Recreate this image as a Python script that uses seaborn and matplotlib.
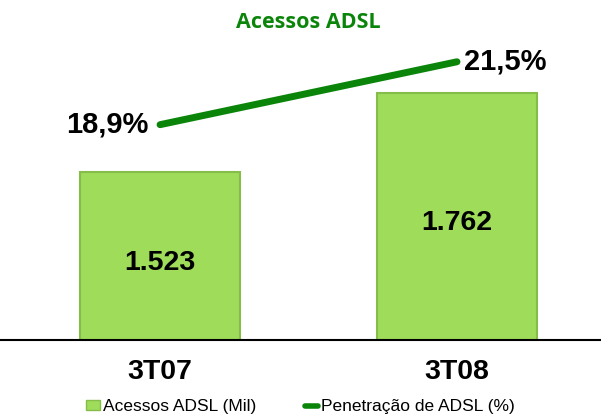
import numpy as np
import pandas as pd
import matplotlib
matplotlib.use("Agg")
import matplotlib.pyplot as plt
import seaborn as sns
from matplotlib.patches import Patch
from matplotlib.lines import Line2D

# dados
periodos = ["3T07", "3T08"]
acessos = [1523, 1762]          # Acessos ADSL (Mil)
penetracao = [18.9, 21.5]       # Penetração de ADSL (%)
rotulos_acessos = ["1.523", "1.762"]
rotulos_pen = ["18,9%", "21,5%"]

cor_barra = "#9EDC5A"
cor_borda = "#86BC4A"
cor_linha = "#0A850A"

sns.set_style("white")
plt.rcParams["font.family"] = ["Liberation Sans", "DejaVu Sans"]
plt.rcParams["text.color"] = "black"
plt.rcParams["xtick.color"] = "black"

df = pd.DataFrame({"periodo": periodos, "acessos": acessos, "pen": penetracao})

fig = plt.figure(figsize=(6.01, 4.17), dpi=100)
ax = fig.add_axes([0, 77 / 417, 1, 300 / 417])

sns.barplot(data=df, x="periodo", y="acessos", color=cor_barra, width=0.54,
            edgecolor=cor_borda, linewidth=1.5, saturation=1, ax=ax)
ax.set_ylim(1015, 1922)
ax.set_xlim(-0.539, 1.485)

for i, txt in enumerate(rotulos_acessos):
    meio = (acessos[i] + 1015) / 2 - 20
    ax.text(i, meio, txt, ha="center", va="center", fontsize=20.5,
            fontweight="bold", color="black")

ax.set_xlabel("")
ax.set_ylabel("")
ax.set_yticks([])
ax.tick_params(axis="x", length=0, labelsize=20.5, pad=14, labelcolor="black")
for lb in ax.get_xticklabels():
    lb.set_fontweight("bold")
for s in ["top", "left", "right"]:
    ax.spines[s].set_visible(False)
ax.spines["bottom"].set_color("black")
ax.spines["bottom"].set_linewidth(1.5)

ax2 = ax.twinx()
x_pos = np.arange(len(periodos))
sns.lineplot(x=x_pos, y=penetracao, color=cor_linha, linewidth=5, ax=ax2)
ax2.set_ylim(10.0, 22.4)
ax2.set_yticks([])
ax2.axis("off")
ax2.text(x_pos[0] - 0.04, penetracao[0], rotulos_pen[0], ha="right", va="center",
         fontsize=21, fontweight="bold", color="black")
ax2.text(x_pos[1] + 0.025, penetracao[1], rotulos_pen[1], ha="left", va="center",
         fontsize=21, fontweight="bold", color="black")

fig.text(0.513, 0.945, "Acessos ADSL", ha="center", va="center", color=cor_linha,
         fontsize=15.5, fontweight="bold", family=["Open Sans", "DejaVu Sans"])

handles = [Patch(facecolor=cor_barra, edgecolor=cor_borda),
           Line2D([0], [0], color=cor_linha, linewidth=4)]
fig.legend(handles, ["Acessos ADSL (Mil)", "Penetração de ADSL (%)"],
           loc="center", bbox_to_anchor=(0.5, 0.024), ncol=2, frameon=False,
           fontsize=12.5, handlelength=0.8, handletextpad=0.15, columnspacing=2.8,
           handleheight=0.5, labelcolor="black")

fig.savefig("out.png", dpi=100)
